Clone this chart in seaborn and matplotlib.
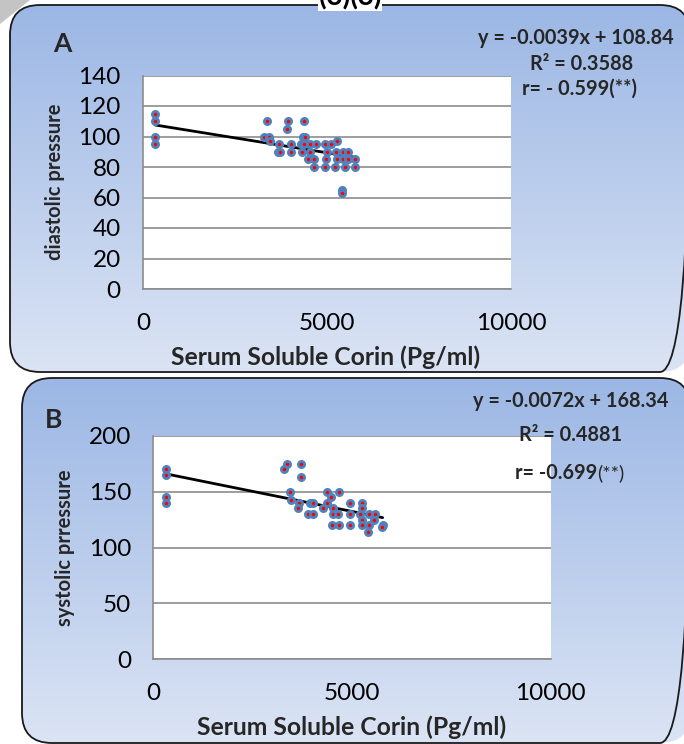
import numpy as np
import matplotlib
matplotlib.use("Agg")
import matplotlib.pyplot as plt
import seaborn as sns
from matplotlib.patches import FancyBboxPatch, Polygon

# ---------------- data ----------------
corin_a = [330, 330, 330, 330,
           3360, 3940, 4366,
           3903,
           3297, 3433, 4347, 4411,
           3460,
           3695, 4030, 4293, 4366, 4537, 4691, 4945, 5117, 5262,
           3659, 3713, 4012, 4329, 4537, 4990, 5253, 5443, 5579,
           4492, 4637, 4972, 5262, 5443, 5579, 5769,
           4637, 4954, 5225, 5479, 5751,
           5416, 5416]
diastolic = [115, 110, 100, 95,
             110, 110, 110,
             105,
             100, 100, 100, 100,
             97,
             95, 95, 95, 95, 95, 95, 95, 95, 97,
             90, 90, 90, 90, 90, 90, 90, 90, 90,
             85, 85, 85, 85, 85, 85, 85,
             80, 80, 80, 80, 80,
             65, 63]

corin_b = [312, 312, 312, 312,
           3356, 3708, 3297, 3708,
           3440, 4362, 4681,
           3465, 4471,
           3674, 3943, 4010, 4362, 4949, 5259,
           3649, 4278, 4530, 5259,
           3884, 4010, 4513, 4655, 4949, 5200, 5435, 5578,
           5561, 5259,
           4505, 4672, 4949, 5259, 5435, 5771,
           5746, 5394]
systolic = [170, 165, 145, 140,
            175, 175, 170, 163,
            150, 150, 150,
            143, 145,
            140, 140, 140, 140, 140, 140,
            135, 135, 135, 135,
            130, 130, 130, 130, 130, 130, 130, 130,
            125, 125,
            120, 120, 120, 120, 120, 120,
            118, 114]

slope_a, intercept_a = -0.0039, 108.84
slope_b, intercept_b = -0.0072, 168.34
eq_a = ["y = -0.0039x + 108.84", "R² = 0.3588", "r= - 0.599(**)"]
eq_b = ["y = -0.0072x + 168.34", "R² = 0.4881", "r= -0.699", "(**)"]
x_ticks = [0, 5000, 10000]
y_ticks_a = [0, 20, 40, 60, 80, 100, 120, 140]
y_ticks_b = [0, 50, 100, 150, 200]
x_label = "Serum Soluble Corin (Pg/ml)"
y_label_a = "diastolic pressure"
y_label_b = "systolic prressure"
top_note = "(3)(3)"

# ---------------- style ----------------
sns.set_theme(style="white")
plt.rcParams['font.family'] = ['Lato', 'DejaVu Sans']

W, H = 684, 744
fig = plt.figure(figsize=(W / 100, H / 100), dpi=100)


def fx(x):
    return x / W


def fy(y):
    return 1 - y / H


# background axis in pixel coordinates
bg = fig.add_axes([0, 0, 1, 1], zorder=0)
bg.set_xlim(0, W)
bg.set_ylim(H, 0)
bg.axis('off')

top_c = np.array([156, 183, 229]) / 255
bot_c = np.array([219, 228, 244]) / 255


def panel(x0, y0, x1, y1):
    grad = np.linspace(0, 1, 256)[:, None, None]
    img = top_c[None, None, :] * (1 - grad) + bot_c[None, None, :] * grad
    img = np.repeat(img, 2, axis=1)
    im = bg.imshow(img, extent=(x0, x1, y1, y0), aspect='auto', zorder=1)
    box = FancyBboxPatch((x0, y0), x1 - x0, y1 - y0,
                         boxstyle="round,pad=0,rounding_size=30",
                         facecolor='none', edgecolor='#1a1a1a', lw=1.3, zorder=2)
    bg.add_patch(box)
    im.set_clip_path(box)


bg.add_patch(Polygon([(0, 0), (30, 0), (0, 24)], closed=True,
                     facecolor='#c4c4c4', edgecolor='none', zorder=0.5))
panel(10, 5, 690, 372)
panel(22, 378, 690, 743)
bg.text(350, -3, top_note, ha='center', va='center', fontsize=20,
        fontweight='bold', color='black', zorder=5,
        bbox=dict(facecolor='white', edgecolor='none', pad=0.5))

grid_c = '#8c8c8c'


def setup(ax, yticks):
    ax.set_facecolor('white')
    ax.set_xlim(0, 10000)
    ax.set_ylim(yticks[0], yticks[-1])
    ax.set_xticks(x_ticks)
    ax.set_yticks(yticks)
    ax.set_xticklabels([str(t) for t in x_ticks])
    ax.set_yticklabels([str(t) for t in yticks])
    for s in ['top', 'right']:
        ax.spines[s].set_visible(False)
    for s in ['left', 'bottom']:
        ax.spines[s].set_color(grid_c)
        ax.spines[s].set_linewidth(1.2)
    ax.yaxis.grid(True, color=grid_c, lw=1.2)
    ax.xaxis.grid(False)
    ax.set_axisbelow(True)
    ax.tick_params(axis='both', direction='out', length=6, width=1.2,
                   color=grid_c, labelsize=17.5, labelcolor='black')
    ax.tick_params(axis='x', pad=11)
    ax.tick_params(axis='y', pad=10)
    ax.set_xlabel("")
    ax.set_ylabel("")


mk = dict(s=20, color='red', edgecolor='#4F81BD', linewidth=2.0, zorder=4, clip_on=False)

# ---------------- panel A ----------------
axA = fig.add_axes([fx(143), fy(289), fx(511) - fx(143), fy(75.5) - fy(289)], zorder=3)
sns.scatterplot(x=corin_a, y=diastolic, ax=axA, **mk)
xa = np.array([min(corin_a), max(corin_a)])
axA.plot(xa, slope_a * xa + intercept_a, color='black', lw=2, zorder=3)
setup(axA, y_ticks_a)

# ---------------- panel B ----------------
axB = fig.add_axes([fx(153.3), fy(659), fx(550.7) - fx(153.3), fy(436) - fy(659)], zorder=3)
sns.scatterplot(x=corin_b, y=systolic, ax=axB, **mk)
xb = np.array([min(corin_b), max(corin_b)])
axB.plot(xb, slope_b * xb + intercept_b, color='black', lw=2, zorder=3)
setup(axB, y_ticks_b)

# ---------------- texts ----------------
fig.text(fx(62), fy(44), "A", ha='center', va='center', fontsize=19, fontweight='bold')
fig.text(fx(54), fy(420), "B", ha='center', va='center', fontsize=19, fontweight='bold')

fig.text(fx(55), fy(182), y_label_a, rotation=90, ha='center', va='center',
         fontsize=14.5, fontweight='bold')
fig.text(fx(65), fy(548), y_label_b, rotation=90, ha='center', va='center',
         fontsize=14.5, fontweight='bold')
fig.text(fx(326), fy(357), x_label, ha='center', va='center', fontsize=17.8, fontweight='bold')
fig.text(fx(352), fy(727), x_label, ha='center', va='center', fontsize=17.8, fontweight='bold')

eq_kw = dict(ha='center', va='center', fontsize=14.3, fontweight='bold', zorder=10)
fig.text(fx(576), fy(38), eq_a[0], **eq_kw)
fig.text(fx(582), fy(64), eq_a[1], **eq_kw)
fig.text(fx(580), fy(89), eq_a[2], **eq_kw)

fig.text(fx(571), fy(401), eq_b[0], **eq_kw)
fig.text(fx(571), fy(435), eq_b[1], **eq_kw)
fig.text(fx(597), fy(473), eq_b[2], ha='right', va='center', fontsize=14.3,
         fontweight='bold', zorder=10)
fig.text(fx(597), fy(473), eq_b[3], ha='left', va='center', fontsize=14.3, zorder=10)

fig.savefig("out.png", dpi=100)
